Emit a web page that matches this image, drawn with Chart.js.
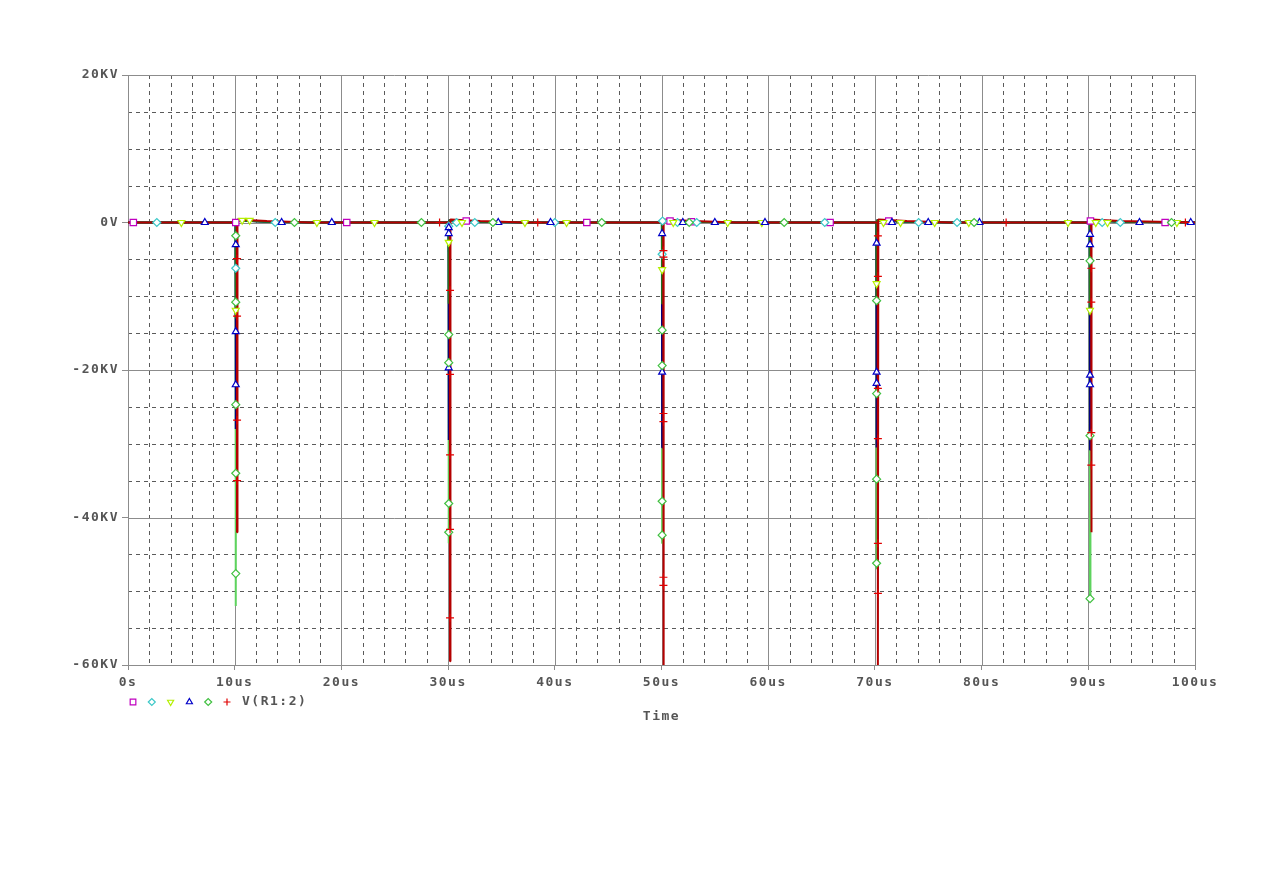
<!DOCTYPE html>
<html>
<head>
<meta charset="utf-8">
<title>V(R1:2)</title>
<script src="https://cdn.jsdelivr.net/npm/chart.js@4.4.1/dist/chart.umd.min.js"></script>
<style>
  html, body { margin: 0; padding: 0; background: #fff; }
  canvas { display: block; }
</style>
</head>
<body>
<canvas id="plot" width="1263" height="893"></canvas>
<script>
// time axis (us) shared by the traces, red is sampled a hair later
const traceTimes = [0, 10.08, 10.1, 10.14, 13, 17, 30.04, 30.06, 30.1, 33, 37, 50.04, 50.06, 50.1, 53, 57, 70.14, 70.16, 70.2, 73, 77, 90.14, 90.16, 90.2, 93, 100];
const redTimes   = [0, 10.2, 10.22, 10.26, 13, 17, 30.16, 30.18, 30.22, 33, 37, 50.16, 50.18, 50.22, 53, 57, 70.26, 70.28, 70.32, 73, 77, 90.26, 90.28, 90.32, 93, 100];

// trace values (kV)
const magentaV = [0, 0, -2.5, 0.3, 0.1, 0, 0, -2, 0.3, 0.1, 0, 0, -2.5, 0.3, 0.1, 0, 0, -2.5, 0.3, 0.1, 0, 0, -2, 0.3, 0.1, 0];
const cyanV    = [0, 0, -7, 0.3, 0.1, 0, 0, -4, 0.3, 0.1, 0, 0, -5, 0.3, 0.1, 0, 0, -5, 0.3, 0.1, 0, 0, -6, 0.3, 0.1, 0];
const yellowV  = [0, 0, -13, 0.3, 0.1, 0, 0, -11, 0.3, 0.1, 0, 0, -11, 0.3, 0.1, 0, 0, -11, 0.3, 0.1, 0, 0, -12.5, 0.3, 0.1, 0];
const blueV    = [0, 0, -28, 0.3, 0.1, 0, 0, -29.5, 0.3, 0.1, 0, 0, -30.5, 0.3, 0.1, 0, 0, -30.5, 0.3, 0.1, 0, 0, -30.8, 0.3, 0.1, 0];
const greenV   = [0, 0, -52, 0.3, 0.1, 0, 0, -43.5, 0.3, 0.1, 0, 0, -43.5, 0.3, 0.1, 0, 0, -47, 0.3, 0.1, 0, 0, -51, 0.3, 0.1, 0];
const redV     = [0, 0, -42, 0.4, 0.2, 0, 0, -59.5, 0.4, 0.2, 0, 0, -60, 0.4, 0.2, 0, 0, -60, 0.4, 0.2, 0, 0, -42, 0.4, 0.2, 0];

// marker symbols along each trace [t(us), kV]
const magentaMarks = [[0.5, 0], [10.1, 0], [20.5, 0], [31.7, 0.2], [43.0, 0], [50.8, 0.2], [52.8, 0.1], [65.8, 0], [71.3, 0.2], [90.2, 0.2], [97.2, 0]];
const cyanMarks = [[2.7, 0], [10.1, -6.2], [13.8, 0], [30.06, -0.5], [30.8, 0], [32.5, 0], [40.0, 0], [50.06, -4.3], [50.1, 0.2], [51.5, 0], [53.3, 0], [65.3, 0], [74.1, 0], [77.7, 0], [91.3, 0], [93.0, 0]];
const yellowMarks = [[5.0, 0], [10.1, -11.9], [10.7, 0.3], [11.4, 0.3], [17.7, 0], [23.1, 0], [30.06, -2.7], [31.3, 0], [37.2, 0], [41.1, 0], [50.06, -6.4], [51.1, 0], [56.2, 0], [59.4, 0], [70.16, -8.3], [70.8, 0], [72.4, 0], [75.6, 0], [78.8, 0], [88.1, 0], [90.16, -11.9], [90.7, 0], [91.8, 0], [98.3, 0]];
const blueMarks = [[7.2, 0], [10.1, -3.0], [10.1, -14.8], [10.1, -22.0], [14.4, 0], [19.1, 0], [30.06, -0.7], [30.06, -1.5], [30.06, -19.7], [34.7, 0], [39.6, 0], [50.06, -1.5], [50.06, -20.3], [52.0, 0], [55.0, 0], [59.7, 0], [70.16, -2.8], [70.16, -20.3], [70.16, -21.8], [71.6, 0], [75.0, 0], [79.8, 0], [90.16, -1.6], [90.16, -3.0], [90.16, -20.7], [90.16, -22.0], [94.8, 0], [99.6, 0]];
const greenMarks = [[10.1, -1.8], [10.1, -10.8], [10.1, -24.7], [10.1, -34.0], [10.1, -47.6], [15.6, 0], [27.5, 0], [30.06, -15.2], [30.06, -19.0], [30.06, -38.1], [30.06, -42.0], [34.2, 0], [44.4, 0], [50.06, -14.6], [50.06, -19.4], [50.06, -37.8], [50.06, -42.4], [52.6, 0], [61.5, 0], [70.16, -10.6], [70.16, -23.2], [70.16, -34.8], [70.16, -46.2], [79.3, 0], [90.16, -5.2], [90.16, -28.9], [90.16, -51.0], [97.8, 0]];
const redMarks = [[10.22, -4.9], [10.22, -12.7], [10.22, -26.8], [10.22, -35.0], [29.2, 0], [30.18, -9.2], [30.18, -20.6], [30.18, -31.5], [30.18, -41.6], [30.18, -53.6], [38.4, 0], [50.18, -3.8], [50.18, -4.7], [50.18, -25.9], [50.18, -27.0], [50.18, -48.1], [50.18, -49.2], [70.28, -1.8], [70.28, -7.3], [70.28, -22.5], [70.28, -29.3], [70.28, -43.5], [70.28, -50.3], [82.3, 0], [90.28, -6.2], [90.28, -10.8], [90.28, -28.5], [90.28, -32.9], [99.1, 0]];

const traceName = 'V(R1:2)';
const FONT = "'DejaVu Sans Mono', monospace";
const TEXT = '#555555';

// legend order: square, diamond, down triangle, up triangle, diamond, plus
const traces = [
  { times: traceTimes, vals: magentaV, marks: magentaMarks, line: '#c000c0', mark: '#c000c0', style: 'rect', rot: 0, lineOrder: 16 },
  { times: traceTimes, vals: cyanV, marks: cyanMarks, line: '#40c0c0', mark: '#3cc8c8', style: 'rectRot', rot: 0, lineOrder: 15 },
  { times: traceTimes, vals: yellowV, marks: yellowMarks, line: '#1f7a1f', mark: '#b4f000', style: 'triangle', rot: 180, lineOrder: 12 },
  { times: traceTimes, vals: blueV, marks: blueMarks, line: '#000080', mark: '#0000c8', style: 'triangle', rot: 0, lineOrder: 13 },
  { times: traceTimes, vals: greenV, marks: greenMarks, line: '#5ed35e', mark: '#40c040', style: 'rectRot', rot: 0, lineOrder: 14 },
  { times: redTimes, vals: redV, marks: redMarks, line: '#b40000', mark: '#e00000', style: 'cross', rot: 0, lineOrder: 11 },
];

const datasets = [];
traces.forEach((tr) => {
  datasets.push({
    data: tr.times.map((t, k) => ({ x: t, y: tr.vals[k] })),
    borderColor: tr.line,
    borderWidth: 2,
    borderJoinStyle: 'bevel',
    pointRadius: 0,
    tension: 0,
    order: tr.lineOrder,
  });
});
traces.forEach((tr, i) => {
  datasets.push({
    data: tr.marks.map(p => ({ x: p[0], y: p[1] })),
    showLine: false,
    pointStyle: tr.style,
    pointRotation: tr.rot,
    pointRadius: tr.style === 'rect' ? 4.5 : 4,
    pointBorderWidth: 1.2,
    pointBorderColor: tr.mark,
    pointBackgroundColor: '#ffffff',
    order: 5 - i,
  });
});

// PSpice style grid: solid majors, dashed minors
const gridPlugin = {
  id: 'pspiceGrid',
  beforeDraw(chart) {
    chart.ctx.letterSpacing = '1.5px';
  },
  beforeDatasetsDraw(chart) {
    const { ctx, chartArea: a, scales } = chart;
    const x = scales.x, y = scales.y;
    ctx.save();
    ctx.lineWidth = 1;
    for (const pass of ['minor', 'major']) {
      x.ticks.forEach(t => {
        const major = t.value % 10 === 0;
        if ((pass === 'major') !== major) return;
        const px = Math.round(x.getPixelForValue(t.value)) + 0.5;
        ctx.strokeStyle = major ? '#8c8c8c' : '#5a5a5a';
        ctx.setLineDash(major ? [] : [4, 4]);
        ctx.beginPath();
        ctx.moveTo(px, a.top);
        ctx.lineTo(px, a.bottom);
        ctx.stroke();
      });
      y.ticks.forEach(t => {
        const major = t.value % 20 === 0;
        if ((pass === 'major') !== major) return;
        const py = Math.round(y.getPixelForValue(t.value)) + 0.5;
        ctx.strokeStyle = major ? '#8c8c8c' : '#5a5a5a';
        ctx.setLineDash(major ? [] : [4, 4]);
        ctx.beginPath();
        ctx.moveTo(a.left, py);
        ctx.lineTo(a.right, py);
        ctx.stroke();
      });
    }
    ctx.restore();
  },
  afterDraw(chart) {
    const { ctx, chartArea: a } = chart;
    ctx.save();
    // legend row under the axis
    const rowY = a.bottom + 37;
    traces.forEach((tr, i) => {
      ctx.strokeStyle = tr.mark;
      ctx.fillStyle = '#ffffff';
      ctx.lineWidth = 1.2;
      Chart.helpers.drawPoint(ctx, {
        pointStyle: tr.style,
        rotation: tr.rot,
        radius: tr.style === 'rect' ? 4 : 3.5,
        borderWidth: 1.2,
      }, a.left + 5 + i * 18.8, rowY);
    });
    ctx.fillStyle = TEXT;
    ctx.font = 'bold 13px ' + FONT;
    ctx.letterSpacing = '1.5px';
    ctx.textBaseline = 'middle';
    ctx.textAlign = 'left';
    ctx.fillText(traceName, a.left + 114, rowY);
    ctx.textAlign = 'center';
    ctx.fillText('Time', (a.left + a.right) / 2, a.bottom + 52);
    ctx.restore();
  },
};

const ctx = document.getElementById('plot').getContext('2d');

const myChart = new Chart(ctx, {
  type: 'line',
  data: { datasets: datasets },
  options: {
    responsive: false,
    animation: false,
    layout: { padding: { left: 0, top: 75, right: 68, bottom: 188 } },
    plugins: { legend: { display: false }, tooltip: { enabled: false } },
    scales: {
      x: {
        type: 'linear',
        min: 0,
        max: 100,
        afterFit: (s) => { s.height = 40; },
        ticks: {
          stepSize: 2,
          autoSkip: false,
          maxRotation: 0,
          padding: 5,
          color: TEXT,
          font: { family: FONT, size: 13, weight: 'bold' },
          callback: (v) => (v % 10 !== 0 ? '' : v === 0 ? '0s' : v + 'us'),
        },
        grid: {
          drawOnChartArea: false,
          tickLength: 5,
          tickColor: (c) => (c.tick && c.tick.value % 10 === 0 ? '#8c8c8c' : 'rgba(0,0,0,0)'),
        },
        border: { color: '#8c8c8c' },
      },
      y: {
        min: -60,
        max: 20,
        afterFit: (s) => { s.width = 128; },
        ticks: {
          stepSize: 5,
          autoSkip: false,
          padding: 3,
          color: TEXT,
          font: { family: FONT, size: 13, weight: 'bold' },
          callback: (v) => (v % 20 !== 0 ? '' : v === 0 ? '0V' : v + 'KV'),
        },
        grid: {
          drawOnChartArea: false,
          tickLength: 6,
          tickColor: (c) => (c.tick && c.tick.value % 20 === 0 ? '#8c8c8c' : 'rgba(0,0,0,0)'),
        },
        border: { color: '#8c8c8c' },
      },
    },
  },
  plugins: [gridPlugin],
});
</script>
</body>
</html>
